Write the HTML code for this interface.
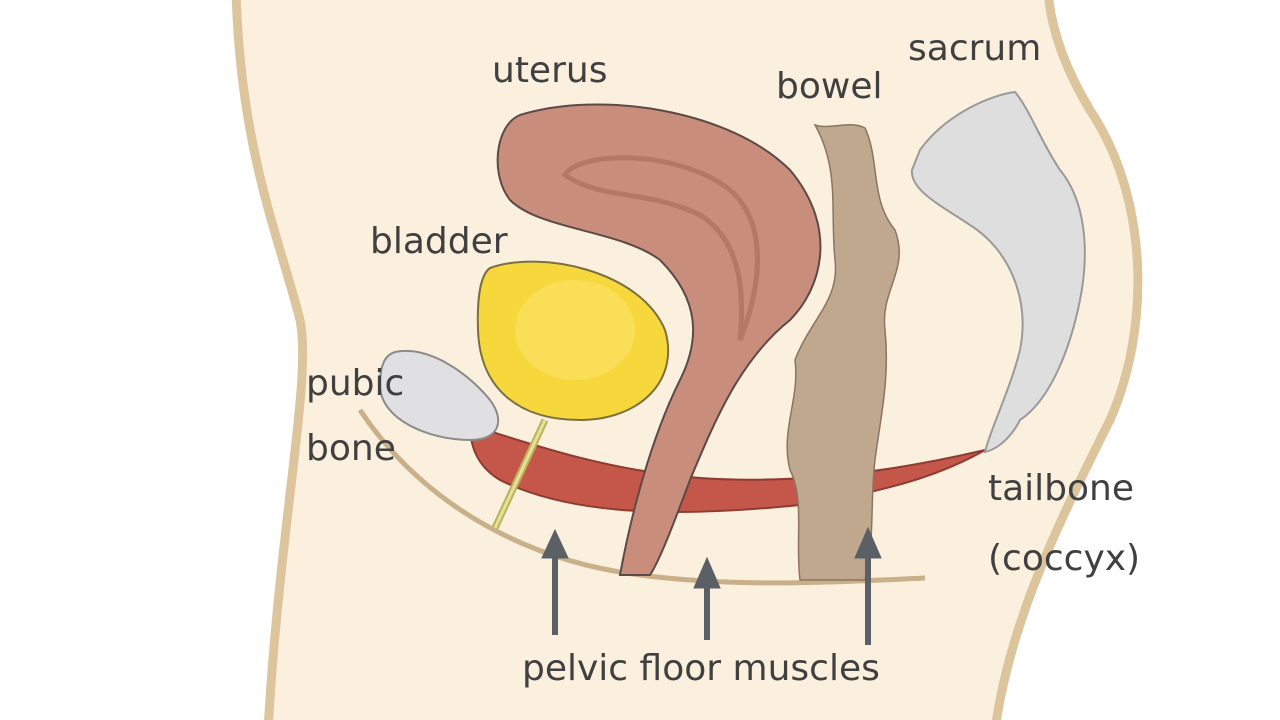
<!DOCTYPE html>
<html><head><meta charset="utf-8"><style>
html,body{margin:0;padding:0;background:#fff;width:1280px;height:720px;overflow:hidden}
svg text{font-family:"DejaVu Sans","Liberation Sans",sans-serif;fill:#404040;font-size:36px}
</style></head><body>
<svg width="1280" height="720" viewBox="0 0 1280 720">
<path d="M236,-10 C240,150 280,240 300,320 C312,380 280,520 268,730 L995,730 C1010,620 1060,520 1110,420 C1150,330 1150,200 1090,110 C1060,60 1050,20 1048,-10 Z" fill="#faf0dd" stroke="#dcc59c" stroke-width="9"/>
<path d="M360,410 C420,500 520,560 640,575 C740,588 840,582 925,578" fill="none" stroke="#c9b08a" stroke-width="5"/>
<path d="M470,425 C520,440 600,470 700,478 C800,485 900,470 985,450 C950,470 900,490 800,505 C700,515 580,520 500,480 C480,468 470,450 470,425 Z" fill="#c4574a" stroke="#8e3b32" stroke-width="2"/>
<path d="M545,420 L495,528" stroke="#b9b35a" stroke-width="7" fill="none"/>
<path d="M545,420 L495,528" stroke="#e8e09a" stroke-width="3" fill="none"/>
<path d="M490,268 C540,250 640,270 665,330 C680,380 640,420 580,420 C520,420 480,390 478,330 C477,300 480,275 490,268 Z" fill="#f7d83c" stroke="#7a7040" stroke-width="2"/>
<ellipse cx="575" cy="330" rx="60" ry="50" fill="#fbe36a" opacity="0.6"/>
<path d="M395,352 C430,345 470,375 490,400 C505,420 500,440 470,440 C430,440 380,420 380,385 C380,365 385,355 395,352 Z" fill="#e0e0e2" stroke="#8b8b8b" stroke-width="2"/>
<path d="M520,115 C600,90 730,110 790,170 C840,230 820,290 790,320 C740,360 715,420 690,480 C675,520 660,560 650,575 L620,575 C630,520 650,440 680,380 C700,340 700,300 660,260 C620,230 540,230 510,200 C490,175 495,125 520,115 Z" fill="#c98d7c" stroke="#5c4a48" stroke-width="2"/>
<path d="M565,175 C580,150 680,150 730,190 C770,225 760,290 740,340 C745,290 740,240 700,215 C650,190 600,200 565,175 Z" fill="none" stroke="#b47866" stroke-width="5"/>
<path d="M815,125 C830,130 850,120 865,128 C880,160 870,200 895,230 C910,270 880,290 885,330 C890,380 880,420 875,460 C870,500 875,540 865,580 L800,580 C795,540 805,500 790,470 C780,430 800,400 795,360 C810,320 840,300 835,260 C830,210 840,170 815,125 Z" fill="#bfa88d" stroke="#8a7660" stroke-width="1.5"/>
<path d="M920,150 C945,115 990,95 1015,92 C1030,110 1040,140 1060,170 C1085,200 1090,250 1080,300 C1070,350 1050,400 1020,420 C1010,440 995,450 985,452 C990,430 1010,390 1020,350 C1030,300 1010,250 970,225 C940,205 910,190 912,170 Z" fill="#dededf" stroke="#9a9a9a" stroke-width="2"/>
<g fill="#5b5f66" stroke="#5b5f66">
<line x1="555" y1="555" x2="555" y2="635" stroke-width="6"/><polygon points="542,558 555,530 568,558"/>
<line x1="707" y1="585" x2="707" y2="640" stroke-width="6"/><polygon points="694,588 707,558 720,588"/>
<line x1="868" y1="555" x2="868" y2="645" stroke-width="6"/><polygon points="855,558 868,528 881,558"/>
</g>
<text x="492" y="82">uterus</text>
<text x="776" y="98">bowel</text>
<text x="908" y="60">sacrum</text>
<text x="370" y="253">bladder</text>
<text x="306" y="395">pubic</text>
<text x="306" y="460">bone</text>
<text x="988" y="500">tailbone</text>
<text x="988" y="570">(coccyx)</text>
<text x="522" y="680">pelvic floor muscles</text>
</svg>
</body></html>
